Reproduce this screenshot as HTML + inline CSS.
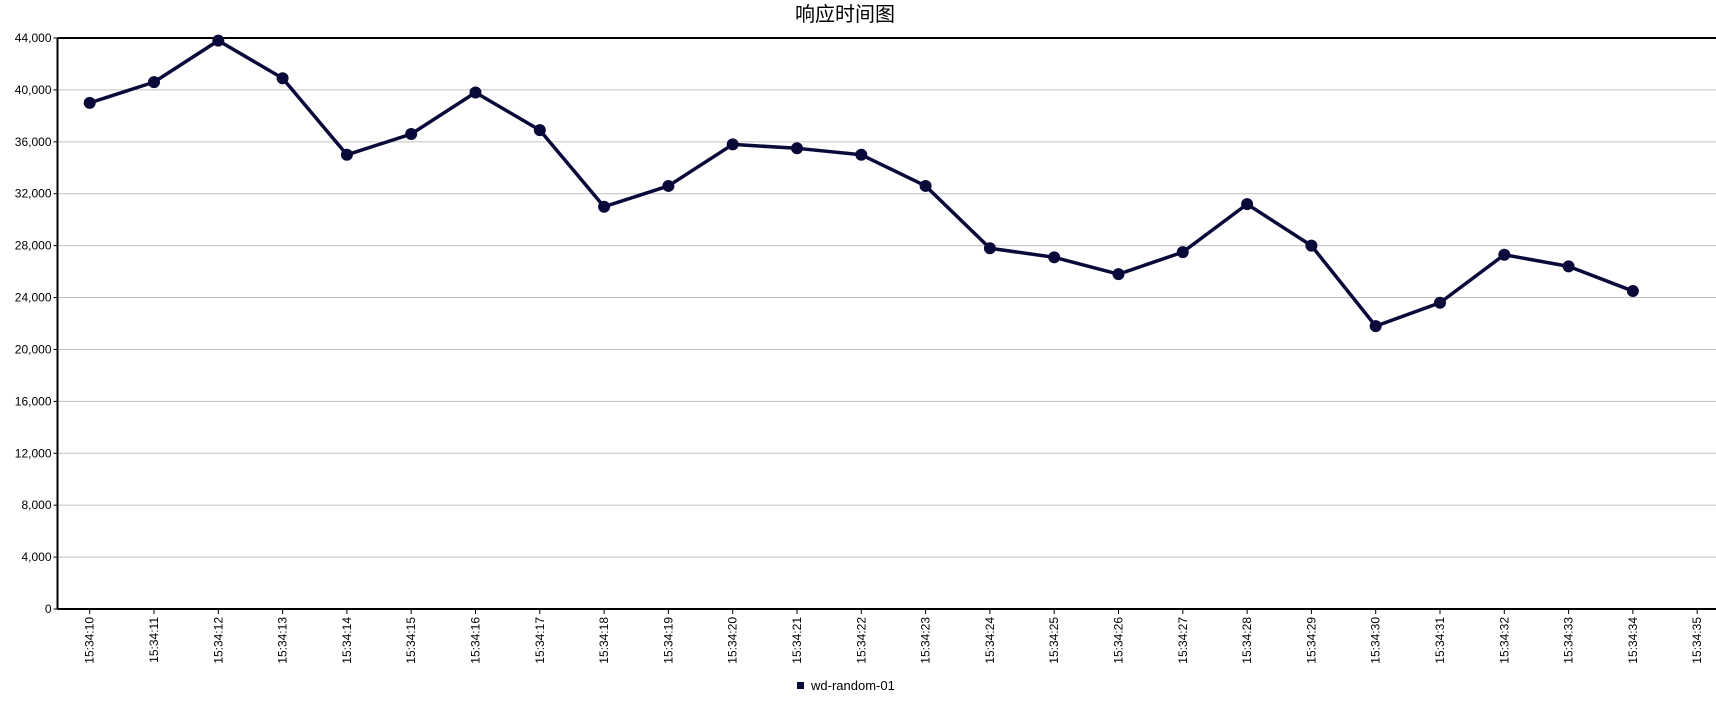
<!DOCTYPE html>
<html><head><meta charset="utf-8"><style>
html,body{margin:0;padding:0;background:#fff;}
svg text{font-family:"Liberation Sans","Noto Sans CJK SC",sans-serif;}
</style></head><body>
<svg id="chart" width="1716" height="699" viewBox="0 0 1716 699" xmlns="http://www.w3.org/2000/svg">
<text x="845" y="21" font-size="20" text-anchor="middle" fill="#000">响应时间图</text>
<g id="grid"></g><g id="axes"></g><g id="series"></g>
<g>
<rect x="797" y="682" width="7" height="7" fill="#0a0a3a"/>
<text x="811" y="690" font-size="13" fill="#000">wd-random-01</text>
</g>
</svg>
<script>
const categories=["15:34:10","15:34:11","15:34:12","15:34:13","15:34:14","15:34:15","15:34:16","15:34:17","15:34:18","15:34:19","15:34:20","15:34:21","15:34:22","15:34:23","15:34:24","15:34:25","15:34:26","15:34:27","15:34:28","15:34:29","15:34:30","15:34:31","15:34:32","15:34:33","15:34:34","15:34:35"];
const seriesValues=[39000,40600,43800,40900,35000,36600,39800,36900,31000,32600,35800,35500,35000,32600,27800,27100,25800,27500,31200,28000,21800,23600,27300,26400,24500];
const yTicks=[0,4000,8000,12000,16000,20000,24000,28000,32000,36000,40000,44000];
const yTickLabels=["0","4,000","8,000","12,000","16,000","20,000","24,000","28,000","32,000","36,000","40,000","44,000"];
const NS="http://www.w3.org/2000/svg";
const L=57.5,R=1716,T=38,B=609,yMax=44000;
const x=i=>89.7+i*64.3;
const y=v=>B-(v/yMax)*(B-T);
function mk(tag,attrs,parent){const e=document.createElementNS(NS,tag);for(const k in attrs)e.setAttribute(k,attrs[k]);parent.appendChild(e);return e;}
const grid=document.getElementById('grid'),axes=document.getElementById('axes'),series=document.getElementById('series');
yTicks.forEach((v,i)=>{
  if(v>0&&v<yMax){const g=mk('line',{x1:L,x2:R,y1:y(v),y2:y(v),stroke:'#c0c0c0','stroke-width':1},grid);
  
  }
  const tk=mk('line',{x1:L-4,x2:L,y1:y(v),y2:y(v),stroke:'#000'},axes);
  
  
  const t=mk('text',{x:L-6,y:y(v)+4,'font-size':12,'text-anchor':'end',fill:'#000'},axes);
  t.textContent=yTickLabels[i];
  
  
});
const topBorder=mk('line',{x1:L,x2:R,y1:T,y2:T,stroke:'#000','stroke-width':2},axes);


const ya=mk('line',{x1:L,x2:L,y1:T,y2:B,stroke:'#000','stroke-width':2},axes);


const xa=mk('line',{x1:L,x2:R,y1:B,y2:B,stroke:'#000','stroke-width':2},axes);


categories.forEach((c,i)=>{
  const tk=mk('line',{x1:x(i),x2:x(i),y1:B,y2:B+5,stroke:'#000'},axes);
  
  
  const t=mk('text',{x:0,y:0,'font-size':12,'text-anchor':'end',fill:'#000',transform:`translate(${x(i)+4},${B+8}) rotate(-90)`},axes);
  t.textContent=c;
  
  
});
const pts=seriesValues.map((v,i)=>x(i)+','+y(v)).join(' ');
const pl=mk('polyline',{points:pts,fill:'none',stroke:'#0a0a3a','stroke-width':3.5,'stroke-linejoin':'round'},series);


seriesValues.forEach((v,i)=>{
  const c=mk('circle',{cx:x(i),cy:y(v),r:6,fill:'#0a0a3a'},series);
  
  
});
</script>
</body></html>
